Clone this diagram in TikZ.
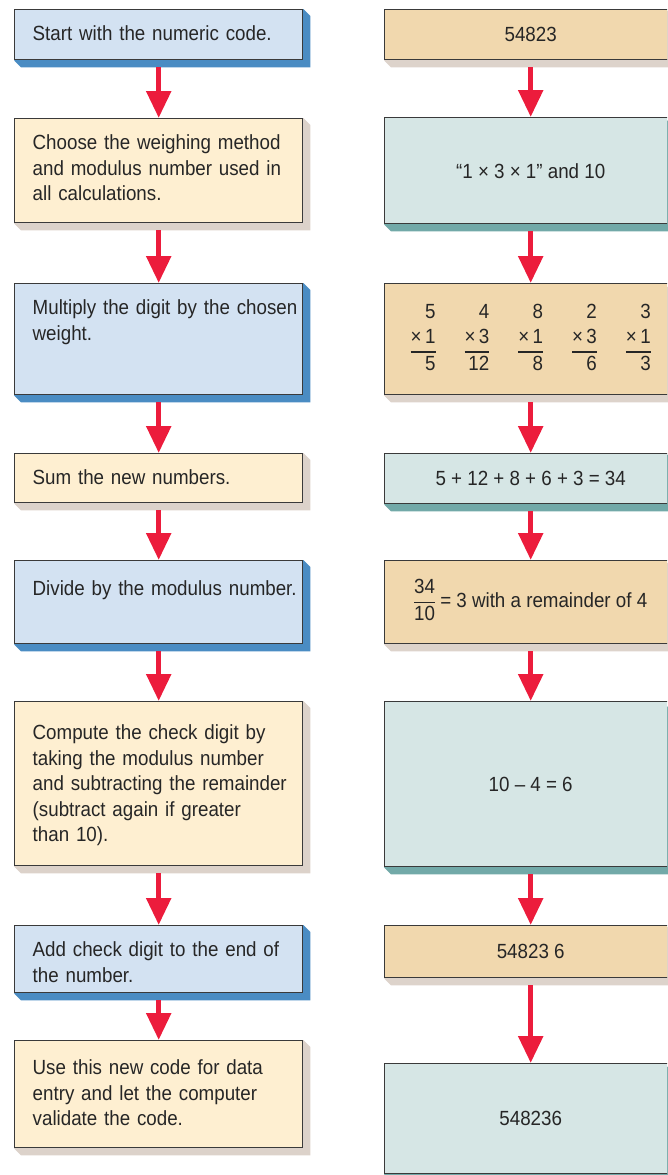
\documentclass[tikz,border=0pt]{standalone}
\usepackage{fontspec}
\setmainfont{Liberation Sans}[FakeStretch=0.915]
\usetikzlibrary{arrows.meta,backgrounds}
\definecolor{blueFill}{HTML}{D3E2F2}
\definecolor{blueShade}{HTML}{4A8CC3}
\definecolor{creamFill}{HTML}{FEEFD1}
\definecolor{creamShade}{HTML}{DCD2CA}
\definecolor{tanFill}{HTML}{F1D8AE}
\definecolor{tanShade}{HTML}{DDD3CB}
\definecolor{tealFill}{HTML}{D6E6E5}
\definecolor{tealShade}{HTML}{72A9A8}
\definecolor{arrowRed}{HTML}{EC1C3C}
\definecolor{edgeGray}{HTML}{3A3A3A}
\definecolor{inkGray}{HTML}{262626}
\setlength{\arrayrulewidth}{1.2pt}
\newcommand{\wmul}[3]{\begin{tabular}[c]{@{}r@{}}#1\\×\,#2\\\hline #3\end{tabular}}

\begin{document}
\begin{tikzpicture}[x=1pt, y=-1pt,
    lbox/.style={draw=edgeGray, line width=1.4pt, anchor=north west,
      inner sep=0pt, text width=288pt, text height=31pt, align=left,
      text=inkGray, font=\fontsize{20.5}{25.5}\selectfont,
      execute at begin node={\leftskip=18pt\rightskip=-20pt plus 1fil\hyphenpenalty=10000}},
    rbox/.style={draw=edgeGray, line width=1.4pt, anchor=north west,
      inner sep=0pt, minimum width=292pt, text=inkGray,
      font=\fontsize{20.5}{25.5}\selectfont},
    arr/.style={draw=arrowRed, line width=5.5pt, -{Triangle[width=24pt,length=27pt]}}]

    \useasboundingbox (0,0) rectangle (667,1175);
    \clip (0,0) rectangle (667,1175);

    % left column: the steps
    \node[lbox, fill=blueFill, text depth=19pt] (start) at (14,9) {Start with the numeric code.};
    \node[lbox, fill=creamFill, text depth=73pt] (choose) at (14,118)
      {Choose the weighing method\\and modulus number used in\\all calculations.};
    \node[lbox, fill=blueFill, text depth=80pt] (multiply) at (14,283)
      {Multiply the digit by the chosen\\weight.};
    \node[lbox, fill=creamFill, text depth=18pt] (sum) at (14,453) {Sum the new numbers.};
    \node[lbox, fill=blueFill, text height=35pt, text depth=48pt] (divide) at (14,560)
      {Divide by the modulus number.};
    \node[lbox, fill=creamFill, text height=38pt, text depth=126pt] (compute) at (14,701)
      {Compute the check digit by\\taking the modulus number\\and subtracting the remainder\\(subtract again if greater\\than 10).};
    \node[lbox, fill=blueFill, text depth=36pt] (append) at (14,925)
      {Add check digit to the end of\\the number.};
    \node[lbox, fill=creamFill, text height=34pt, text depth=73pt] (reuse) at (14,1040)
      {Use this new code for data\\entry and let the computer\\validate the code.};

    % right column: the worked example
    \node[rbox, fill=tanFill, minimum height=50pt] (code) at (384,9) {54823};
    \node[rbox, fill=tealFill, minimum height=106pt] (method) at (384,117) {“1 × 3 × 1” and 10};
    \node[rbox, fill=tanFill, minimum height=111pt] (products) at (384,283)
      {\wmul{5}{1}{5}\hspace{29pt}\wmul{4}{3}{12}\hspace{29pt}\wmul{8}{1}{8}\hspace{29pt}\wmul{2}{3}{6}\hspace{29pt}\wmul{3}{1}{3}};
    \node[rbox, fill=tealFill, minimum height=50pt] (total) at (384,453) {5 + 12 + 8 + 6 + 3 = 34};
    \node[rbox, fill=tanFill, minimum height=83pt] (quotient) at (384,560)
      {\begin{tabular}[c]{@{}c@{}}34\\\hline 10\end{tabular} = 3 with a remainder of 4};
    \node[rbox, fill=tealFill, minimum height=165pt] (check) at (384,701) {10 – 4 = 6};
    \node[rbox, fill=tanFill, minimum height=52pt] (coded) at (384,925) {54823 6};
    \node[rbox, fill=tealFill, minimum height=110pt] (final) at (384,1063) {548236};

    % drop shades behind the boxes
    \begin{scope}[on background layer]
      \fill[blueShade] (start.south west) -- ++(7,7) -| ([shift={(7,7)}]start.north east) -- (start.north east) -- cycle;
      \fill[creamShade] (choose.south west) -- ++(7,7) -| ([shift={(7,7)}]choose.north east) -- (choose.north east) -- cycle;
      \fill[blueShade] (multiply.south west) -- ++(7,7) -| ([shift={(7,7)}]multiply.north east) -- (multiply.north east) -- cycle;
      \fill[creamShade] (sum.south west) -- ++(7,7) -| ([shift={(7,7)}]sum.north east) -- (sum.north east) -- cycle;
      \fill[blueShade] (divide.south west) -- ++(7,7) -| ([shift={(7,7)}]divide.north east) -- (divide.north east) -- cycle;
      \fill[creamShade] (compute.south west) -- ++(7,7) -| ([shift={(7,7)}]compute.north east) -- (compute.north east) -- cycle;
      \fill[blueShade] (append.south west) -- ++(7,7) -| ([shift={(7,7)}]append.north east) -- (append.north east) -- cycle;
      \fill[creamShade] (reuse.south west) -- ++(7,7) -| ([shift={(7,7)}]reuse.north east) -- (reuse.north east) -- cycle;
      \fill[tanShade] (code.south west) -- ++(7,7) -| ([shift={(7,7)}]code.north east) -- (code.north east) -- cycle;
      \fill[tealShade] (method.south west) -- ++(7,7) -| ([shift={(7,7)}]method.north east) -- (method.north east) -- cycle;
      \fill[tanShade] (products.south west) -- ++(7,7) -| ([shift={(7,7)}]products.north east) -- (products.north east) -- cycle;
      \fill[tealShade] (total.south west) -- ++(7,7) -| ([shift={(7,7)}]total.north east) -- (total.north east) -- cycle;
      \fill[tanShade] (quotient.south west) -- ++(7,7) -| ([shift={(7,7)}]quotient.north east) -- (quotient.north east) -- cycle;
      \fill[tealShade] (check.south west) -- ++(7,7) -| ([shift={(7,7)}]check.north east) -- (check.north east) -- cycle;
      \fill[tanShade] (coded.south west) -- ++(7,7) -| ([shift={(7,7)}]coded.north east) -- (coded.north east) -- cycle;
      \fill[tealShade] (final.south west) -- ++(7,7) -| ([shift={(7,7)}]final.north east) -- (final.north east) -- cycle;
    \end{scope}

    % arrows down each column
    \draw[arr] ([yshift=-7pt]start.south) -- (choose.north);
    \draw[arr] ([yshift=-7pt]choose.south) -- (multiply.north);
    \draw[arr] ([yshift=-7pt]multiply.south) -- (sum.north);
    \draw[arr] ([yshift=-7pt]sum.south) -- (divide.north);
    \draw[arr] ([yshift=-7pt]divide.south) -- (compute.north);
    \draw[arr] ([yshift=-7pt]compute.south) -- (append.north);
    \draw[arr] ([yshift=-7pt]append.south) -- (reuse.north);

    \draw[arr] ([yshift=-7pt]code.south) -- (method.north);
    \draw[arr] ([yshift=-7pt]method.south) -- (products.north);
    \draw[arr] ([yshift=-7pt]products.south) -- (total.north);
    \draw[arr] ([yshift=-7pt]total.south) -- (quotient.north);
    \draw[arr] ([yshift=-7pt]quotient.south) -- (check.north);
    \draw[arr] ([yshift=-7pt]check.south) -- (coded.north);
    \draw[arr] ([yshift=-7pt]coded.south) -- (final.north);

\end{tikzpicture}
\end{document}
